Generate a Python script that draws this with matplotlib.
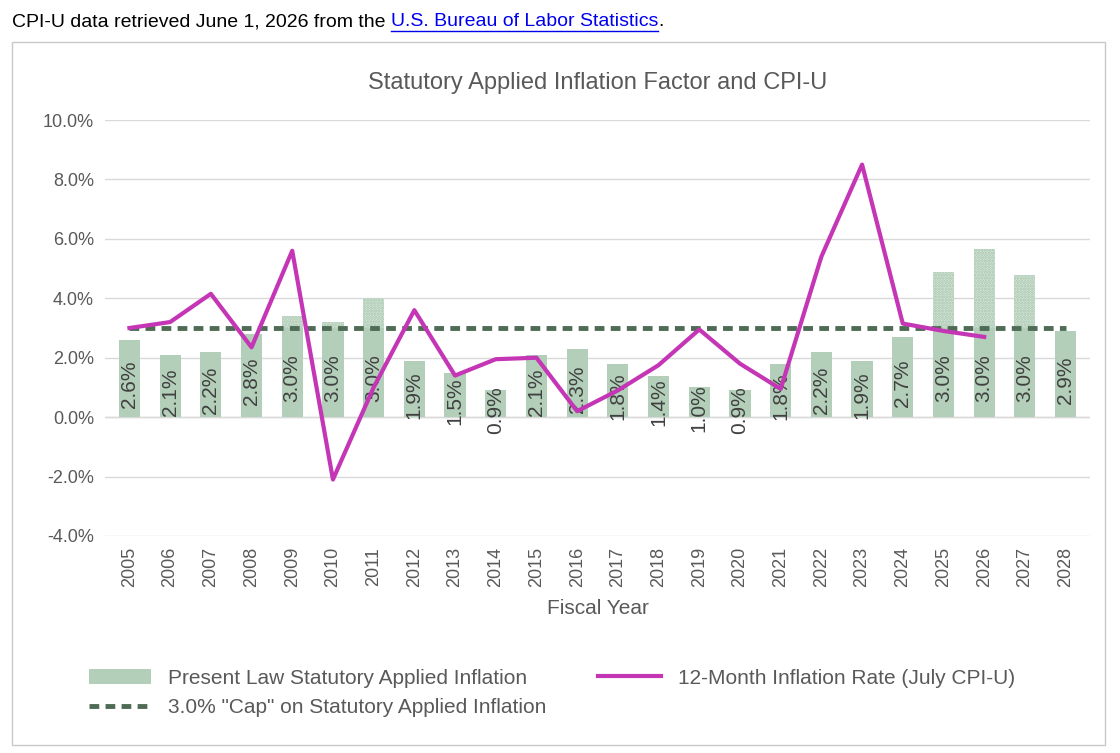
import matplotlib.pyplot as plt
from matplotlib.patches import Rectangle
import numpy as np

years = [str(y) for y in range(2005, 2029)]
applied = [2.6, 2.1, 2.2, 2.8, 3.0, 3.0, 3.0, 1.9, 1.5, 0.9, 2.1, 2.3, 1.8, 1.4,
           1.0, 0.9, 1.8, 2.2, 1.9, 2.7, 3.0, 3.0, 3.0, 2.9]
excess = [0, 0, 0, 0, 0.4, 0.2, 1.0, 0, 0, 0, 0, 0, 0, 0,
          0, 0, 0, 0, 0, 0, 1.9, 2.65, 1.8, 0]
cpi = [3.0, 3.2, 4.15, 2.35, 5.6, -2.1, 1.0, 3.6, 1.4, 1.95, 2.0, 0.2, 0.9, 1.75,
       2.95, 1.8, 0.95, 5.4, 8.5, 3.15, 2.9, 2.7]
cap = [3.0] * len(years)

plt.rcParams['font.family'] = ['Liberation Sans', 'DejaVu Sans']
plt.rcParams['hatch.linewidth'] = 1.5
fig = plt.figure(figsize=(11.2, 7.53), dpi=100)
fig.patches.append(Rectangle((12 / 1120, 1 - 745 / 753), 1093 / 1120, 703 / 753,
                             transform=fig.transFigure, fill=False, ec='#c8c8c8', lw=1))
t1 = fig.text(12 / 1120, 1 - 22 / 753, "CPI-U data retrieved June 1, 2026 from the ",
              fontsize=14, va='center')
fig.canvas.draw()
bb = t1.get_window_extent()
t2 = fig.text(bb.x1 / 1120, 1 - 22 / 753, "U.S. Bureau of Labor Statistics",
              fontsize=14, va='center', color='#0000ee')
fig.canvas.draw()
bb2 = t2.get_window_extent()
fig.add_artist(plt.Line2D([bb2.x0 / 1120, bb2.x1 / 1120], [1 - 31 / 753] * 2, color='#0000ee', lw=1))
fig.text(bb2.x1 / 1120, 1 - 22 / 753, ".", fontsize=14, va='center')

ax = fig.add_axes([105 / 1120, 1 - 536 / 753, 985 / 1120, 416 / 753])
x = np.arange(len(years))
green = '#b3cfb9'
ax.bar(x, applied, width=0.52, color=green, zorder=2, label='Present Law Statutory Applied Inflation')
ax.bar(x, excess, bottom=applied, width=0.52, color='#e4eee6', edgecolor='#9dc0a5',
       hatch='......', lw=0, zorder=2)
for xi, v in zip(x, applied):
    ax.text(xi, max(v / 2 - 0.2, 0.1), f"{v:.1f}%", rotation=90, ha='center', va='center',
            fontsize=15, color='#404040', zorder=3)
ax.plot(x, cap, color='#4e6b55', lw=3.5, ls=(0, (2, 1.3)), zorder=4,
        label='3.0% "Cap" on Statutory Applied Inflation')
ax.plot(x[:len(cpi)], cpi, color='#c436b5', lw=3, zorder=5,
        label='12-Month Inflation Rate (July CPI-U)')

ax.set_ylim(-4, 10)
ax.set_yticks(np.arange(-4, 10.1, 2))
ax.set_yticklabels([f"{v:.1f}%" for v in np.arange(-4, 10.1, 2)])
ax.set_xlim(-0.6, len(years) - 0.4)
ax.set_xticks(x)
ax.set_xticklabels(years, rotation=90)
ax.tick_params(length=0, labelsize=13, colors='#595959', pad=8)
ax.grid(axis='y', color='#d9d9d9', lw=1, zorder=0)
for s in ax.spines.values():
    s.set_visible(False)
ax.axhline(0, color='#d9d9d9', lw=1, zorder=1)
ax.set_title("Statutory Applied Inflation Factor and CPI-U", fontsize=17, color='#595959', pad=22)
ax.set_xlabel("Fiscal Year", fontsize=15, color='#595959', labelpad=8)

h, l = ax.get_legend_handles_labels()
order = [l.index('Present Law Statutory Applied Inflation'),
         l.index('3.0% "Cap" on Statutory Applied Inflation'),
         l.index('12-Month Inflation Rate (July CPI-U)')]
leg = fig.legend([h[i] for i in order], [l[i] for i in order], ncol=2, frameon=False,
                 loc='upper left', bbox_to_anchor=(70 / 1120, 1 - 650 / 753),
                 fontsize=15, labelcolor='#595959', handlelength=3, columnspacing=2.5)
fig.savefig('out.png', dpi=100)
